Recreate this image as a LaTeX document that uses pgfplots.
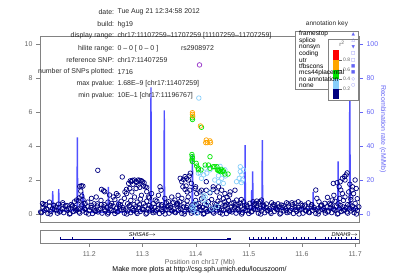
\documentclass[border=0pt]{standalone}
\usepackage{pgfplots}
\pgfplotsset{compat=1.18}
\usepackage{fontspec}
\setmainfont{Liberation Sans}
\newfontfamily\symfont{DejaVu Sans}
\definecolor{navyc}{RGB}{0,0,128}
\definecolor{lblue}{RGB}{135,206,250}
\definecolor{lgreen}{RGB}{0,230,0}
\definecolor{orng}{RGB}{255,165,0}
\definecolor{redc}{RGB}{255,0,0}
\definecolor{purp}{RGB}{150,50,200}
\definecolor{recline}{RGB}{80,80,255}
\definecolor{recblue}{RGB}{100,100,245}
\definecolor{axgray}{RGB}{130,130,130}
\definecolor{ticktext}{RGB}{100,100,100}
\definecolor{anntext}{RGB}{40,40,40}
\newcommand{\sz}{\fontsize{7}{8}\selectfont}
\begin{document}
\begin{tikzpicture}
\path[use as bounding box] (0,0) rectangle (399bp,279bp);

% recombination rate axis
\begin{axis}[at={(40bp,57bp)}, anchor=south west, scale only axis,
  width=319bp, height=186bp,
  xmin=11.107259, xmax=11.707259, ymin=-4.7, ymax=104.7,
  axis y line*=right, axis x line=none,
  axis line style={-, draw=axgray},
  ytick={0,20,40,60,80,100}, tick align=outside, major tick length=4bp,
  ytick style={recblue, line width=0.5pt},
  yticklabel style={recblue, font=\sz},
  /pgf/number format/assume math mode=true,
  ylabel={Recombination rate (cM/Mb)},
  ylabel style={recblue, font=\sz, rotate=180, at={(axis description cs:1.0752,0.5)}, anchor=center}]
\addplot[recline, line width=1.4pt] coordinates {
(11.1073,2) (11.125,1.5) (11.1304,1.5) (11.1312,13.5) (11.1320,1.5) (11.1418,1.5) (11.1425,14.7) (11.1432,1.5)
(11.160,2) (11.1768,2) (11.1775,45) (11.1782,2) (11.186,2) (11.188,13) (11.190,2) (11.2,1)
(11.2352,1) (11.236,16) (11.2368,1) (11.2535,1) (11.254,8) (11.2545,1) (11.280,1.5)
(11.3153,1.5) (11.316,74.5) (11.3167,1.5) (11.3403,1.5) (11.341,61) (11.3417,1.5)
(11.3933,1.5) (11.394,35) (11.3947,1.4) (11.4923,1.4) (11.493,40.5) (11.4937,3)
(11.5045,3) (11.5055,14) (11.5065,3) (11.5073,25) (11.5080,3) (11.5247,3) (11.5254,43.5) (11.5261,3)
(11.580,3) (11.6205,3) (11.621,13) (11.6215,3) (11.6673,3) (11.668,31) (11.6687,3)
(11.6893,3) (11.690,88) (11.6907,3) (11.7073,3)};
\end{axis}

% main -log10 p axis
\begin{axis}[at={(40bp,57bp)}, anchor=south west, scale only axis,
  width=319bp, height=186bp,
  xmin=11.107259, xmax=11.707259, ymin=-0.47, ymax=10.47,
  xtick=\empty, ytick={0,2,4,6,8,10}, ytick pos=left,
  tick align=outside, major tick length=4bp,
  axis line style={draw=axgray}, ytick style={axgray},
  yticklabel style={ticktext, font=\sz},
  /pgf/number format/assume math mode=true]
\addplot[only marks, mark=o, mark size=2.3pt, mark options={navyc, line width=0.7pt}] coordinates {
(11.110,.08)(11.116,.22)(11.122,.03)(11.128,.15)(11.134,.26)(11.140,.05)(11.146,.18)(11.152,.08)(11.158,.22)(11.164,.03)
(11.170,.15)(11.176,.26)(11.182,.05)(11.188,.18)(11.194,.08)(11.200,.22)(11.206,.03)(11.212,.15)(11.218,.26)(11.224,.05)
(11.230,.18)(11.236,.08)(11.242,.22)(11.248,.03)(11.254,.15)(11.260,.26)(11.266,.05)(11.272,.18)(11.278,.08)(11.284,.22)
(11.290,.03)(11.296,.15)(11.302,.26)(11.308,.05)(11.314,.18)(11.320,.08)(11.326,.22)(11.332,.03)(11.338,.15)(11.344,.26)
(11.350,.05)(11.356,.18)(11.362,.08)(11.368,.22)(11.374,.03)(11.380,.15)(11.386,.26)(11.392,.05)(11.398,.18)(11.404,.08)
(11.410,.22)(11.416,.03)(11.422,.15)(11.428,.26)(11.434,.05)(11.440,.18)(11.446,.08)(11.452,.22)(11.458,.03)(11.464,.15)
(11.470,.26)(11.476,.05)(11.482,.18)(11.488,.08)(11.494,.22)(11.500,.03)(11.506,.15)(11.512,.26)(11.518,.05)(11.524,.18)
(11.530,.08)(11.536,.22)(11.542,.03)(11.548,.15)(11.554,.26)(11.560,.05)(11.566,.18)(11.572,.08)(11.578,.22)(11.584,.03)
(11.590,.15)(11.596,.26)(11.602,.05)(11.608,.18)(11.614,.08)(11.620,.22)(11.626,.03)(11.632,.15)(11.638,.26)(11.644,.05)
(11.650,.18)(11.656,.08)(11.662,.22)(11.668,.03)(11.674,.15)(11.680,.26)(11.686,.05)(11.692,.18)(11.698,.08)(11.704,.22)
(11.113,.38)(11.119,.30)(11.125,.47)(11.131,.33)(11.137,.42)(11.143,.38)(11.149,.30)(11.155,.47)(11.161,.33)(11.167,.42)
(11.173,.38)(11.179,.30)(11.185,.47)(11.191,.33)(11.197,.42)(11.203,.38)(11.209,.30)(11.215,.47)(11.221,.33)(11.227,.42)
(11.233,.38)(11.239,.30)(11.245,.47)(11.251,.33)(11.257,.42)(11.263,.38)(11.269,.30)(11.275,.47)(11.281,.33)(11.287,.42)
(11.293,.38)(11.299,.30)(11.305,.47)(11.311,.33)(11.317,.42)(11.323,.38)(11.329,.30)(11.335,.47)(11.341,.33)(11.347,.42)
(11.353,.38)(11.359,.30)(11.365,.47)(11.371,.33)(11.377,.42)(11.383,.38)(11.389,.30)(11.395,.47)(11.401,.33)(11.407,.42)
(11.413,.38)(11.419,.30)(11.425,.47)(11.431,.33)(11.437,.42)(11.443,.38)(11.449,.30)(11.455,.47)(11.461,.33)(11.467,.42)
(11.473,.38)(11.479,.30)(11.485,.47)(11.491,.33)(11.497,.42)(11.503,.38)(11.509,.30)(11.515,.47)(11.521,.33)(11.527,.42)
(11.533,.38)(11.539,.30)(11.545,.47)(11.551,.33)(11.557,.42)(11.563,.38)(11.569,.30)(11.575,.47)(11.581,.33)(11.587,.42)
(11.593,.38)(11.599,.30)(11.605,.47)(11.611,.33)(11.617,.42)(11.623,.38)(11.629,.30)(11.635,.47)(11.641,.33)(11.647,.42)
(11.653,.38)(11.659,.30)(11.665,.47)(11.671,.33)(11.677,.42)(11.683,.38)(11.689,.30)(11.695,.47)(11.701,.33)(11.707,.42)
(11.1085,.12)(11.1145,.55)(11.1205,.27)(11.1265,.00)(11.1325,.50)(11.1385,.20)(11.1445,.12)(11.1505,.55)(11.1565,.27)(11.1625,.00)
(11.1685,.50)(11.1745,.20)(11.1805,.12)(11.1865,.55)(11.1925,.27)(11.1985,.00)(11.2045,.50)(11.2105,.20)(11.2165,.12)(11.2225,.55)
(11.2285,.27)(11.2345,.00)(11.2405,.50)(11.2465,.20)(11.2525,.12)(11.2585,.55)(11.2645,.27)(11.2705,.00)(11.2765,.50)(11.2825,.20)
(11.2885,.12)(11.2945,.55)(11.3005,.27)(11.3065,.00)(11.3125,.50)(11.3185,.20)(11.3245,.12)(11.3305,.55)(11.3365,.27)(11.3425,.00)
(11.3485,.50)(11.3545,.20)(11.3605,.12)(11.3665,.55)(11.3725,.27)(11.3785,.00)(11.3845,.50)(11.3905,.20)(11.3965,.12)(11.4025,.55)
(11.4085,.27)(11.4145,.00)(11.4205,.50)(11.4265,.20)(11.4325,.12)(11.4385,.55)(11.4445,.27)(11.4505,.00)(11.4565,.50)(11.4625,.20)
(11.4685,.12)(11.4745,.55)(11.4805,.27)(11.4865,.00)(11.4925,.50)(11.4985,.20)(11.5045,.12)(11.5105,.55)(11.5165,.27)(11.5225,.00)
(11.5285,.50)(11.5345,.20)(11.5405,.12)(11.5465,.55)(11.5525,.27)(11.5585,.00)(11.5645,.50)(11.5705,.20)(11.5765,.12)(11.5825,.55)
(11.5885,.27)(11.5945,.00)(11.6005,.50)(11.6065,.20)(11.6125,.12)(11.6185,.55)(11.6245,.27)(11.6305,.00)(11.6365,.50)(11.6425,.20)
(11.6485,.12)(11.6545,.55)(11.6605,.27)(11.6665,.00)(11.6725,.50)(11.6785,.20)(11.6845,.12)(11.6905,.55)(11.6965,.27)(11.7025,.00)
(11.112,0.62)(11.118,0.55)(11.125,0.70)(11.133,0.52)(11.142,0.58)(11.150,0.66)(11.158,0.50)(11.166,0.56)(11.172,0.72)(11.176,0.82)
(11.179,0.78)(11.181,0.95)(11.182,1.62)(11.185,1.66)(11.188,1.64)(11.184,1.35)(11.186,1.05)(11.188,0.85)(11.192,0.62)(11.197,0.70)
(11.204,0.92)(11.209,0.60)(11.213,1.00)(11.216,2.57)
(11.215,0.60)(11.222,0.80)(11.223,1.45)(11.227,1.37)(11.229,1.31)(11.228,0.55)(11.235,0.70)(11.238,1.12)(11.242,0.62)(11.245,1.00)
(11.248,0.85)(11.251,1.20)(11.254,1.10)(11.255,0.58)(11.260,0.75)(11.262,2.18)(11.266,0.92)(11.267,1.30)(11.270,1.45)(11.270,1.20)
(11.272,0.60)(11.274,1.80)(11.276,1.50)(11.278,0.80)(11.279,1.90)(11.280,1.30)(11.282,1.75)(11.284,0.55)(11.285,2.00)(11.285,1.00)
(11.288,1.50)(11.290,0.70)(11.292,2.00)(11.292,1.70)(11.295,1.57)(11.296,0.88)(11.298,1.96)(11.298,1.10)(11.302,0.62)(11.302,1.65)
(11.303,1.84)(11.305,1.60)(11.308,1.31)(11.308,0.75)(11.308,1.57)(11.311,1.00)(11.313,0.95)(11.277,1.95)(11.288,1.92)(11.295,1.98)
(11.281,1.98)(11.289,1.86)(11.300,1.90)
(11.317,1.20)(11.320,0.60)(11.324,0.82)(11.327,0.75)(11.330,1.10)(11.333,1.60)(11.335,1.40)(11.336,0.55)(11.342,0.92)(11.345,0.65)
(11.349,0.72)(11.352,0.52)(11.355,1.00)(11.358,0.68)(11.361,0.82)(11.364,0.58)(11.367,1.10)(11.370,0.72)(11.371,2.10)(11.374,1.90)
(11.376,1.60)(11.377,2.04)(11.378,0.60)(11.380,2.20)(11.380,1.45)(11.382,1.65)(11.383,2.10)(11.384,1.30)(11.384,0.78)(11.386,2.00)
(11.386,1.00)(11.388,2.24)(11.390,2.40)(11.392,1.80)(11.374,0.92)(11.366,0.63)
(11.389,1.40)(11.394,0.55)(11.399,1.50)(11.400,0.80)(11.402,1.20)(11.406,0.62)(11.408,1.30)(11.411,0.90)(11.414,1.00)(11.417,0.58)
(11.420,1.40)(11.420,1.90)(11.424,0.72)(11.427,1.25)(11.430,0.85)(11.433,1.60)(11.433,1.45)(11.436,0.60)(11.440,1.30)(11.442,0.75)
(11.443,1.60)(11.445,1.00)(11.449,1.40)(11.452,0.90)(11.455,1.20)(11.455,0.72)(11.446,0.63)(11.458,0.58)(11.459,1.00)(11.462,0.80)
(11.465,1.30)(11.464,1.12)(11.468,0.63)(11.472,0.68)(11.474,1.40)(11.477,0.82)(11.480,0.55)(11.484,0.63)(11.486,0.85)(11.490,0.72)
(11.496,0.53)(11.400,1.60)(11.411,1.40)
(11.502,0.63)(11.508,0.72)(11.512,0.63)(11.515,0.76)(11.518,0.63)(11.521,0.72)(11.524,0.82)(11.527,0.53)(11.533,0.59)(11.543,0.66)
(11.549,0.53)(11.555,0.60)(11.561,0.53)(11.571,0.66)(11.574,0.60)(11.581,0.66)(11.587,0.63)(11.593,0.72)(11.598,0.60)(11.606,0.53)
(11.612,0.66)(11.618,0.53)(11.626,1.41)(11.628,0.92)(11.632,0.72)(11.637,0.53)(11.643,0.63)(11.648,0.98)(11.652,0.63)(11.657,0.82)
(11.654,0.55)(11.659,1.80)(11.660,1.10)(11.662,0.75)(11.668,0.60)(11.670,1.60)(11.671,0.92)(11.672,1.90)(11.673,1.41)(11.676,2.10)
(11.676,1.20)(11.678,0.80)(11.680,2.20)(11.681,2.00)(11.681,1.00)(11.683,2.30)(11.685,2.42)(11.686,0.55)(11.688,1.30)(11.692,1.00)
(11.692,0.85)(11.694,1.41)(11.695,1.60)(11.697,1.20)(11.700,2.00)(11.700,0.62)(11.704,0.90)(11.666,1.84)(11.690,1.75)(11.702,1.50)};
\addplot[only marks, mark=o, mark size=2.3pt, mark options={lblue, line width=0.7pt}] coordinates {
(11.406,6.82)(11.396,0.34)(11.399,0.63)(11.402,0.04)(11.393,0.43)(11.414,0.82)(11.420,0.63)(11.411,2.10)(11.405,2.40)(11.4085,2.43)
(11.415,2.30)(11.421,2.40)(11.427,2.60)(11.436,2.00)(11.443,1.90)(11.449,2.10)(11.452,1.80)(11.446,2.80)(11.455,2.60)(11.418,2.70)
(11.456,2.24)(11.443,2.25)(11.477,1.90)(11.482,2.10)(11.487,2.30)(11.490,2.60)(11.484,2.50)(11.484,2.78)(11.488,2.00)(11.486,1.85)
(11.415,1.10)(11.418,1.00)(11.427,1.30)(11.395,0.20)(11.430,0.30)(11.440,0.45)};
\addplot[only marks, mark=o, mark size=2.3pt, mark options={lgreen, line width=0.7pt}] coordinates {
(11.394,5.66)(11.394,5.56)(11.411,5.10)(11.393,3.50)(11.3935,3.38)(11.394,3.28)(11.393,3.18)(11.394,3.08)(11.427,3.37)(11.402,2.82)
(11.405,2.69)(11.418,2.88)(11.424,2.88)(11.427,2.69)(11.436,2.78)(11.441,2.59)(11.445,2.55)(11.447,2.49)(11.451,2.49)(11.448,2.63)
(11.455,2.35)(11.461,2.35)(11.410,2.59)(11.405,2.60)(11.401,2.98)(11.433,2.78)(11.440,2.78)(11.443,2.55)(11.452,2.55)};
\addplot[only marks, mark=o, mark size=2.3pt, mark options={orng, line width=0.7pt}] coordinates {
(11.394,5.96)(11.394,5.86)(11.3945,5.76)(11.409,5.18)(11.420,4.35)(11.422,4.20)(11.419,4.20)(11.428,4.20)(11.427,4.30)};
\addplot[only marks, mark=o, mark size=2.3pt, mark options={purp, line width=0.7pt}] coordinates {(11.407259,8.77)};
\end{axis}

% gene panel
\begin{axis}[at={(40bp,36bp)}, anchor=south west, scale only axis,
  width=319bp, height=12.3bp,
  xmin=11.107259, xmax=11.707259, ymin=0, ymax=1,
  ytick=\empty, xtick={11.2,11.3,11.4,11.5,11.6,11.7}, xtick pos=bottom,
  tick align=outside, major tick length=4bp,
  axis line style={draw=axgray}, xtick style={axgray},
  xticklabel style={ticktext, font=\sz, yshift=-1.5bp},
  /pgf/number format/.cd, fixed, precision=1, fixed zerofill, assume math mode=true]
\addplot[navyc, line width=0.8pt] coordinates {(11.1449,0.33) (11.4665,0.33)};
\addplot[navyc, line width=0.8pt] coordinates {(11.5010,0.33) (11.7073,0.33)};
\addplot[navyc, line width=2.2pt] coordinates {(11.4590,0.33) (11.4665,0.33)};
\addplot[draw=none, mark=none, error bars/.cd, y dir=both, y explicit,
  error bar style={navyc, line width=0.5pt}, error mark=none] coordinates {
(11.1449,0.33) +- (0,0.12) (11.1675,0.33) +- (0,0.12) (11.2828,0.33) +- (0,0.12)
(11.5010,0.33) +- (0,0.12) (11.5085,0.33) +- (0,0.12) (11.5179,0.33) +- (0,0.12) (11.5243,0.33) +- (0,0.12)
(11.5305,0.33) +- (0,0.12) (11.5367,0.33) +- (0,0.12) (11.5461,0.33) +- (0,0.12) (11.5525,0.33) +- (0,0.12)
(11.5619,0.33) +- (0,0.12) (11.5713,0.33) +- (0,0.12) (11.5837,0.33) +- (0,0.12) (11.5901,0.33) +- (0,0.12)
(11.5995,0.33) +- (0,0.12) (11.6039,0.33) +- (0,0.12) (11.6119,0.33) +- (0,0.12) (11.6245,0.33) +- (0,0.12)
(11.6433,0.33) +- (0,0.12) (11.6496,0.33) +- (0,0.12) (11.6560,0.33) +- (0,0.12) (11.6622,0.33) +- (0,0.12)
(11.6684,0.33) +- (0,0.12) (11.6748,0.33) +- (0,0.12) (11.6842,0.33) +- (0,0.12) (11.6936,0.33) +- (0,0.12)
(11.6998,0.33) +- (0,0.12)};
\node[font=\fontsize{5.6}{6}\selectfont\itshape, inner sep=0pt] at (axis cs:11.3,0.72) {SHISA6$\to$};
\node[font=\fontsize{5.6}{6}\selectfont\itshape, inner sep=0pt, anchor=east] at (axis cs:11.7055,0.72) {DNAH9$\to$};
\end{axis}

% axis title and footer
\node[ticktext, font=\sz, inner sep=0pt] at (200bp,16.8bp) {Position on chr17 (Mb)};
\node[black, font=\sz, inner sep=0pt] at (199.5bp,9.8bp) {Make more plots at http://csg.sph.umich.edu/locuszoom/};

% header annotations
\begin{scope}[every node/.style={anntext, font=\sz, inner sep=0pt}]
\node[anchor=east] at (114.3bp,267.3bp) {date:};
\node[anchor=west] at (117.3bp,267.3bp) {Tue Aug 21 12:34:58 2012};
\node[anchor=east] at (114.3bp,254.7bp) {build:};
\node[anchor=west] at (117.3bp,254.7bp) {hg19};
\node[anchor=east] at (114.3bp,243bp) {display range:};
\node[anchor=west] at (117.3bp,243bp) {chr17:11107259--11707259 [11107259--11707259]};
\node[anchor=east] at (114.3bp,230.7bp) {hilite range:};
\node[anchor=west] at (117.3bp,230.7bp) {0 -- 0 [ 0 -- 0 ]};
\node[anchor=east] at (114.3bp,219bp) {reference SNP:};
\node[anchor=west] at (117.3bp,219bp) {chr17:11407259};
\node[anchor=east] at (114.3bp,207.3bp) {number of SNPs plotted:};
\node[anchor=west] at (117.3bp,207.3bp) {1716};
\node[anchor=east] at (114.3bp,195bp) {max pvalue:};
\node[anchor=west] at (117.3bp,195bp) {1.68E--9 [chr17:11407259]};
\node[anchor=east] at (114.3bp,183.3bp) {min pvalue:};
\node[anchor=west] at (117.3bp,183.3bp) {10E--1 [chr17:11196767]};
\node at (197.5bp,230.7bp) {rs2908972};
\node[font=\fontsize{6.5}{7}\selectfont] at (327bp,255bp) {annotation key};
\end{scope}

% annotation key box and r2 colour bar
\draw[axgray, fill=white, line width=0.5pt] (295bp,189.7bp) rectangle (358.5bp,247.3bp);
\draw[axgray, fill=white, line width=0.5pt] (328.5bp,179bp) rectangle (358.5bp,239.5bp);
\fill[redc] (332.5bp,219bp) rectangle (339bp,229bp);
\fill[orng] (332.5bp,209bp) rectangle (339bp,219bp);
\fill[lgreen] (332.5bp,200bp) rectangle (339bp,209bp);
\fill[lblue] (332.5bp,190bp) rectangle (339bp,200bp);
\fill[navyc] (332.5bp,179.5bp) rectangle (339bp,190bp);
\foreach \yy/\lab in {219/0.8, 209/0.6, 200/0.4, 190/0.2} {
  \draw[ticktext, line width=0.4pt] (339bp,\yy bp) -- (342bp,\yy bp);
  \node[ticktext, font=\fontsize{5}{6}\selectfont, anchor=west, inner sep=0.5pt] at (342.5bp,\yy bp) {\lab};
}
\node[ticktext, font=\fontsize{6}{6}\selectfont, inner sep=0pt] at (342bp,235bp) {r\textsuperscript{2}};
\begin{scope}[every node/.style={black, font=\fontsize{6.5}{7}\selectfont, inner sep=0pt, anchor=west}]
\node at (299bp,244.7bp) {framestop};
\node at (299bp,238.3bp) {splice};
\node at (299bp,232bp) {nonsyn};
\node at (299bp,225.5bp) {coding};
\node at (299bp,219bp) {utr};
\node at (299bp,212.7bp) {tfbscons};
\node at (299bp,206.2bp) {mcs44placental};
\node at (299bp,199.8bp) {no annotation};
\node at (299bp,193.3bp) {none};
\end{scope}
\begin{scope}[every node/.style={recblue, font=\symfont\fontsize{4.5}{5}\selectfont, inner sep=0pt}]
\node at (353.3bp,244.7bp) {▲};
\node at (353.3bp,238.3bp) {△};
\node at (353.3bp,232bp) {▼};
\node at (353.3bp,225.5bp) {□};
\node at (353.3bp,219bp) {□};
\node at (353.3bp,212.7bp) {■};
\node at (353.3bp,206.2bp) {■};
\node at (353.3bp,199.8bp) {◇};
\node at (353.3bp,193.3bp) {○};
\end{scope}
\end{tikzpicture}
\end{document}
